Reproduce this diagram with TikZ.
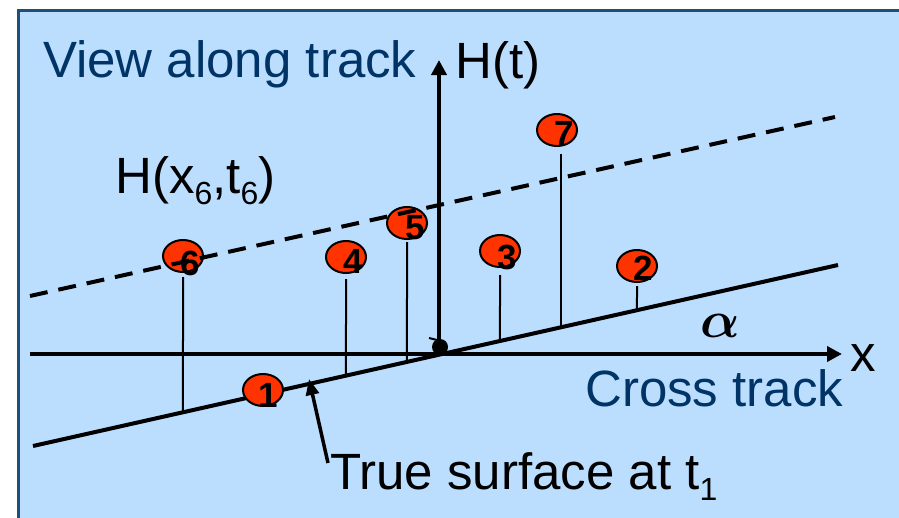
\documentclass[tikz,border=0pt]{standalone}
\usepackage{bm}
\usepackage{fontspec}
\setmainfont{Liberation Sans}
\usetikzlibrary{arrows.meta,shapes.geometric}
\definecolor{panel}{RGB}{187,222,255}
\definecolor{panelrim}{RGB}{31,78,121}
\definecolor{navy}{RGB}{0,51,102}
\definecolor{ptred}{RGB}{255,51,0}
\newcommand{\lowidx}[1]{\raisebox{-11pt}{\fontsize{32}{32}\selectfont #1}}
\begin{document}
\begin{tikzpicture}[x=1pt, y=-1pt,
  pt/.style={draw, line width=2pt, fill=ptred, ellipse, minimum width=40pt, minimum height=32pt, inner sep=0pt},
  num/.style={font=\fontsize{35}{35}\selectfont\bfseries, inner sep=0pt},
  stem/.style={line width=2pt},
  axis/.style={line width=4pt, -{Triangle[length=15pt,width=15pt]}},
  lbl/.style={font=\fontsize{51}{60}\selectfont, inner sep=0pt, anchor=base west},
  anglbl/.style={inner sep=0pt}]
\useasboundingbox (0,0) rectangle (899,517);
\clip (0,0) rectangle (899,517);
\fill[white] (0,0) rectangle (899,517);
\draw[panelrim, line width=3pt, fill=panel] (18,10) rectangle (930,550);
% axes and lines
\coordinate (xa) at (30,354);
\coordinate (xb) at (842,354);
\coordinate (o) at (439,354);
\coordinate (yb) at (439,60);
\coordinate (sl) at (33,446);
\coordinate (sr) at (838,265);
\coordinate (dl) at (30,296);
\coordinate (dr) at (835,117);
\draw[axis] (xa) -- (xb);
\draw[axis] (o) -- (yb);
\draw[line width=4pt] (sl) -- (sr);
\node[circle, fill=black, minimum size=16pt, inner sep=0pt] (dot) at (440,347) {};
\draw[line width=2pt] ([shift={(-11,-9)}]dot.center) -- ([shift={(-3,-7)}]dot.center);
% measured points
\node[pt] (p1) at (263,390) {};
\node[pt] (p2) at (637,266) {};
\node[pt] (p3) at (500,251) {};
\node[pt] (p4) at (346,257) {};
\node[pt] (p5) at (407,223) {};
\node[pt] (p6) at (183,256) {};
\node[pt] (p7) at (557,130) {};
\coordinate (g2) at (intersection of p2.north--p2.south and sl--sr);
\coordinate (g3) at (intersection of p3.north--p3.south and sl--sr);
\coordinate (g4) at (intersection of p4.north--p4.south and sl--sr);
\coordinate (g5) at (intersection of p5.north--p5.south and sl--sr);
\coordinate (g6) at (intersection of p6.north--p6.south and sl--sr);
\coordinate (g7) at (561,327);
\draw[stem] ([yshift=-3pt]p2.south) -- (g2);
\draw[stem] ([yshift=-7pt]p3.south) -- (g3);
\draw[stem] ([yshift=-5pt]p4.south) -- (g4);
\draw[stem] ([yshift=-2pt]p5.south) -- (g5);
\draw[stem] ([yshift=-4pt]p6.south) -- (g6);
\draw[stem] (g7 |- 0,154) -- (g7);
\draw[line width=4pt, dash pattern=on 18pt off 11pt] (dl) -- (dr);
\node[num] at ([shift={(5,5)}]p1) {1};
\node[num] at ([shift={(6,2)}]p2) {2};
\node[num] at ([shift={(7,6)}]p3) {3};
\node[num] at ([shift={(7,4)}]p4) {4};
\node[num] at ([shift={(8,5)}]p5) {5};
\node[num] at ([shift={(7,7)}]p6) {6};
\node[num] at ([shift={(7,3)}]p7) {7};
% labels
\node[lbl, text=navy] (view) at (43,77) {View along track};
\node[lbl] (ht) at (455,78) {H(t)};
\node[lbl] (hx) at (115,193) {H(x\lowidx{6},t\lowidx{6})};
\node[lbl] (xlbl) at (850,371) {x};
\node[lbl, text=navy] (cross) at (585,406) {Cross track};
\node[lbl] (truelbl) at (330,489) {True surface at t\lowidx{1}};
\node[anglbl] (ang) at (720,326) {\scalebox{5.2}{$\bm{\alpha}$}};
\coordinate (tail) at (328,463);
\coordinate (tip) at (309,379);
\draw[line width=3.5pt, -{Triangle[length=16pt,width=13pt]}] (tail) -- (tip);
\end{tikzpicture}
\end{document}
